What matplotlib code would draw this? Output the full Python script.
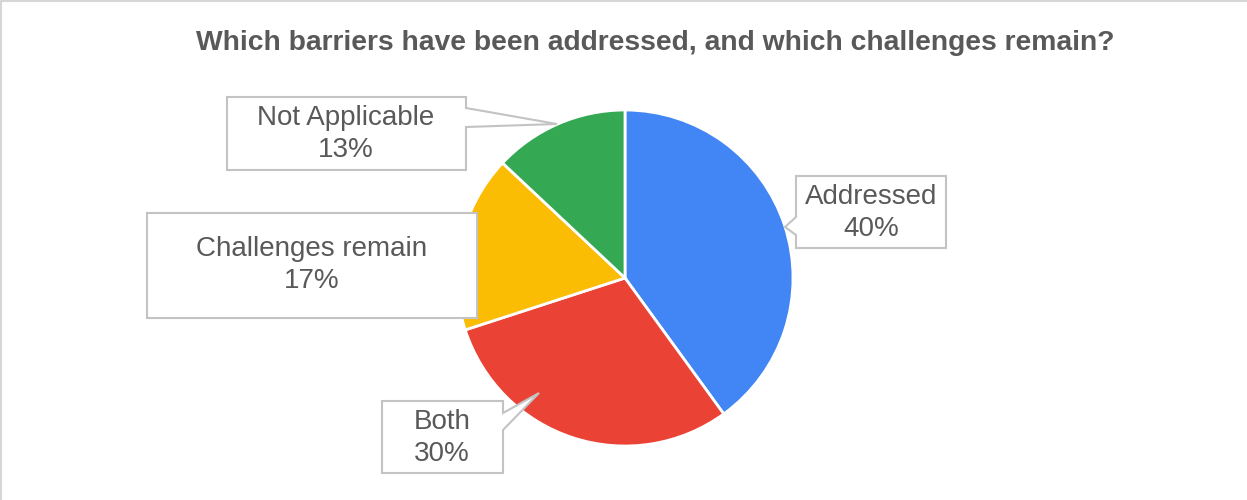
import matplotlib.pyplot as plt
from matplotlib.patches import Polygon

plt.rcParams["font.family"] = ["Liberation Sans", "DejaVu Sans"]

# slice data, clockwise from 12 o'clock
labels = ["Addressed", "Both", "Challenges remain", "Not Applicable"]
values = [40, 30, 17, 13]
colors = ["#4285F4", "#EA4335", "#FBBC04", "#34A853"]

TITLE = "Which barriers have been addressed, and which challenges remain?"

W, H = 1247, 500
TEXT = "#595959"
BOX_EDGE = "#c3c3c3"

# callout outlines in pixel coords (y down); pointer points are part of the outline
CALLOUTS = {
    "Addressed": [(796, 176), (946, 176), (946, 248), (796, 248),
                  (796, 235), (785, 227), (796, 217)],
    "Both": [(382, 401), (503, 401), (503, 413), (539, 393), (503, 430),
             (503, 473), (382, 473)],
    "Challenges remain": [(147, 213), (477, 213), (477, 318), (147, 318)],
    "Not Applicable": [(227, 97), (466, 97), (466, 108), (557, 124),
                       (466, 127), (466, 170), (227, 170)],
}
TEXT_POS = {
    "Addressed": (871, 213),
    "Both": (442, 438),
    "Challenges remain": (312, 265),
    "Not Applicable": (346, 134),
}


def flip(pts):
    return [(x, H - y) for x, y in pts]


fig = plt.figure(figsize=(W / 100, H / 100), dpi=100)
ax = fig.add_axes([0, 0, 1, 1])

ax.pie(values, colors=colors, startangle=90, counterclock=False,
       center=(625, H - 278), radius=168,
       wedgeprops=dict(edgecolor="white", linewidth=2))

ax.set_xlim(0, W)
ax.set_ylim(0, H)
ax.set_aspect("equal")
ax.axis("off")

total = sum(values)
for name, v in zip(labels, values):
    poly = Polygon(flip(CALLOUTS[name]), closed=True, facecolor="white",
                   edgecolor=BOX_EDGE, linewidth=1.5, zorder=5)
    ax.add_patch(poly)
    x, y = TEXT_POS[name]
    ax.text(x, H - y, f"{name}\n{round(v / total * 100)}%", ha="center",
            va="center", fontsize=20, color=TEXT, linespacing=1.3, zorder=6)

ax.text(655, H - 43, TITLE, ha="center", va="center", fontsize=20.3,
        fontweight="bold", color=TEXT)

# thin frame along the top and left edges
ax.plot([1, 1, W], [0, H - 1, H - 1], color="#d6d6d6", linewidth=1.5,
        clip_on=False)

fig.savefig("out.png", dpi=100)
